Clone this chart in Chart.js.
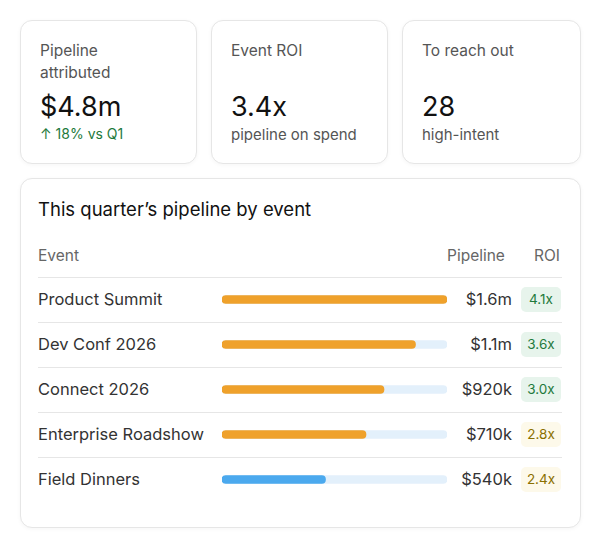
<!DOCTYPE html>
<html lang="en">
<head>
<meta charset="UTF-8">
<title>Pipeline by event</title>
<script src="https://cdn.jsdelivr.net/npm/chart.js"></script>
<style>
    body { margin: 0; width: 600px; height: 548px; background: #fff; font-family: Inter, "Open Sans", sans-serif; color: #111; position: relative; overflow: hidden; }
    .card { position: absolute; border: 1px solid #e6e6e6; border-radius: 12px; box-shadow: 0 1px 4px rgba(0,0,0,0.04); background: #fff; }
    .kpi { top: 20px; height: 142px; width: 175px; }
    .kpi .lbl { position: absolute; left: 19px; top: 19px; font-size: 15.5px; color: #555; line-height: 22px; }
    .kpi .val { position: absolute; left: 19px; top: 87px; font-size: 27px; color: #111; line-height: 36px; }
    .kpi .sub { position: absolute; left: 19px; top: 104px; font-size: 15px; color: #555; }
    .kpi .sub.up { color: #1e7a3c; font-size: 14px; }
    .t { position: absolute; font-size: 16.5px; color: #333; }
    .hd { position: absolute; font-size: 15.5px; color: #666; }
    .line { position: absolute; left: 38px; width: 524px; height: 1px; background: #e6e6e6; }
    .badge { position: absolute; left: 521px; width: 40px; height: 25px; line-height: 25px; text-align: center; border-radius: 5px; font-size: 13.5px; }
    #chartBox { position: absolute; left: 219px; top: 277px; width: 231px; height: 225px; }
</style>
</head>
<body>
<div class="card kpi" style="left:20px"><div class="lbl">Pipeline<br>attributed</div><div class="val" style="top:68px">$4.8m</div><div class="sub up">↑ 18% vs Q1</div></div>
<div class="card kpi" style="left:211px"><div class="lbl">Event ROI</div><div class="val" style="top:68px">3.4x</div><div class="sub">pipeline on spend</div></div>
<div class="card kpi" style="left:402px;width:177px"><div class="lbl">To reach out</div><div class="val" style="top:68px">28</div><div class="sub">high-intent</div></div>

<div class="card" style="left:20px;top:178px;width:559px;height:348px"></div>
<div class="t" style="left:38px;top:198px;font-size:18.5px;color:#111">This quarter’s pipeline by event</div>
<div class="hd" style="left:38px;top:246px">Event</div>
<div class="hd" style="left:447px;top:246px">Pipeline</div>
<div class="hd" style="left:534px;top:246px">ROI</div>
<div id="rows"></div>
<div id="chartBox"><canvas id="c"></canvas></div>

<script>
    const events = ['Product Summit', 'Dev Conf 2026', 'Connect 2026', 'Enterprise Roadshow', 'Field Dinners'];
    const pipelineLabels = ['$1.6m', '$1.1m', '$920k', '$710k', '$540k'];
    const barShare = [100, 86, 72, 64, 46];
    const roi = [4.1, 3.6, 3.0, 2.8, 2.4];
    const barColors = ['#efa12b', '#efa12b', '#efa12b', '#efa12b', '#4ba9ee'];

    const rows = document.getElementById('rows');
    events.forEach((name, i) => {
        const y = 277 + i * 45;
        let html = `<div class="line" style="top:${y}px"></div>`;
        html += `<div class="t" style="left:38px;top:${y + 12}px">${name}</div>`;
        html += `<div class="t" style="right:88px;top:${y + 12}px">${pipelineLabels[i]}</div>`;
        const good = roi[i] >= 3;
        html += `<div class="badge" style="top:${y + 10}px;background:${good ? '#e7f4ec' : '#fdf9ea'};color:${good ? '#1e7a3c' : '#8a7000'}">${roi[i].toFixed(1)}x</div>`;
        rows.insertAdjacentHTML('beforeend', html);
    });

    new Chart(document.getElementById('c'), {
        type: 'bar',
        data: {
            labels: events,
            datasets: [
                { data: barShare, backgroundColor: barColors, barThickness: 8, borderRadius: 4, borderSkipped: false },
                { data: events.map(() => 100), backgroundColor: '#e3f0fb', barThickness: 8, borderRadius: 4, borderSkipped: false }
            ]
        },
        options: {
            indexAxis: 'y',
            responsive: true,
            maintainAspectRatio: false,
            animation: false,
            layout: { padding: { left: 3, right: 3 } },
            datasets: { bar: { grouped: false } },
            plugins: { legend: { display: false }, tooltip: { enabled: false } },
            scales: {
                x: { display: false, min: 0, max: 100 },
                y: { display: false }
            }
        }
    });
</script>
</body>
</html>
